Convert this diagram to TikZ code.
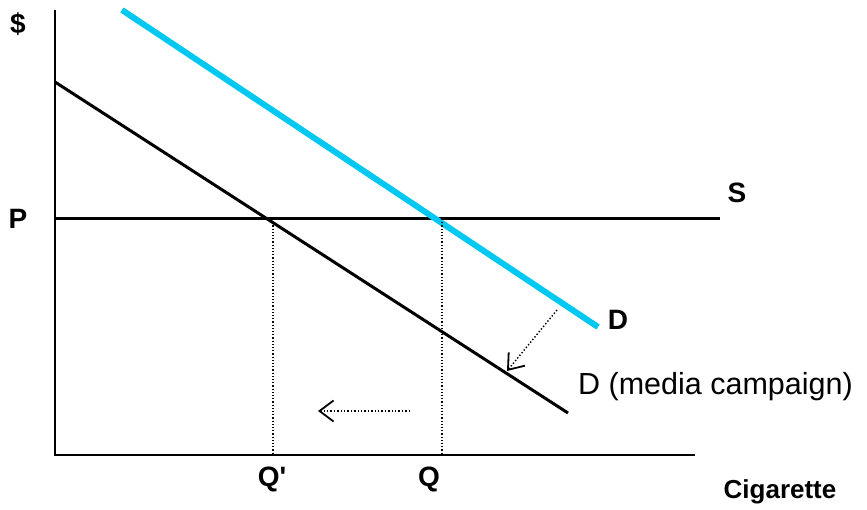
\documentclass[tikz,border=0pt]{standalone}
\usepackage{fontspec}
\setmainfont{Liberation Sans}
\usetikzlibrary{arrows.meta}
\definecolor{shiftcyan}{RGB}{0,200,240}

\begin{document}
\begin{tikzpicture}[
x=1pt, y=-1pt,
every node/.style={font=\fontsize{30.5}{34}\selectfont},
lbl/.style={font=\fontsize{28}{32}\selectfont\bfseries},
axlbl/.style={font=\fontsize{26}{30}\selectfont\bfseries},
axis/.style={line width=2pt},
demand/.style={line width=3pt},
shifted/.style={line width=6pt, color=shiftcyan},
guide/.style={dotted, line width=1.2pt},
shiftarrow/.style={dotted, line width=1.4pt, -{Straight Barb[length=14pt,width=21pt,line width=1.8pt]}}
]
\useasboundingbox (0,0) rectangle (867,510);
% axes
\coordinate (ytop) at (55,10);
\coordinate (origin) at (55,455);
\coordinate (xend) at (695,455);
\draw[axis] (ytop) -- (origin) -- (xend);
% supply
\coordinate (sstart) at (55,219);
\coordinate (send) at (720,219);
\draw[demand] (sstart) -- (send);
% demand curves
\coordinate (dstart) at (55,82);
\coordinate (dend) at (568,413);
\coordinate (cstart) at (122,10);
\coordinate (cend) at (598,327);
\draw[demand] (dstart) -- (dend);
\draw[shifted] (cstart) -- (cend);
% quantities
\coordinate (eqnew) at (273,219);
\coordinate (eqold) at (442,219);
\coordinate (qnew) at (273,455);
\coordinate (qold) at (442,455);
\draw[guide] (eqnew) -- (qnew);
\draw[guide] (eqold) -- (qold);
% shift arrows
\coordinate (hfrom) at (410,411);
\coordinate (hto) at (318,411);
\draw[shiftarrow] (hfrom) -- (hto);
\coordinate (dfrom) at (557,310);
\coordinate (dto) at (507,371);
\draw[shiftarrow] (dfrom) -- (dto);
% labels
\node[lbl] (price) at (18,24) {\$};
\node[lbl] (plbl) at (18,219) {P};
\node[lbl] (slbl) at (737,193) {S};
\node[lbl] (dlbl) at (618,320) {D};
\node[anchor=west, inner sep=0pt] (dmedia) at (578,387) {D (media campaign)};
\node[lbl] (qnewlbl) at (272,479) {Q\textquotesingle};
\node[lbl] (qoldlbl) at (429,479) {Q};
\node[axlbl] (xlbl) at (780,492) {Cigarette};
\end{tikzpicture}
\end{document}
